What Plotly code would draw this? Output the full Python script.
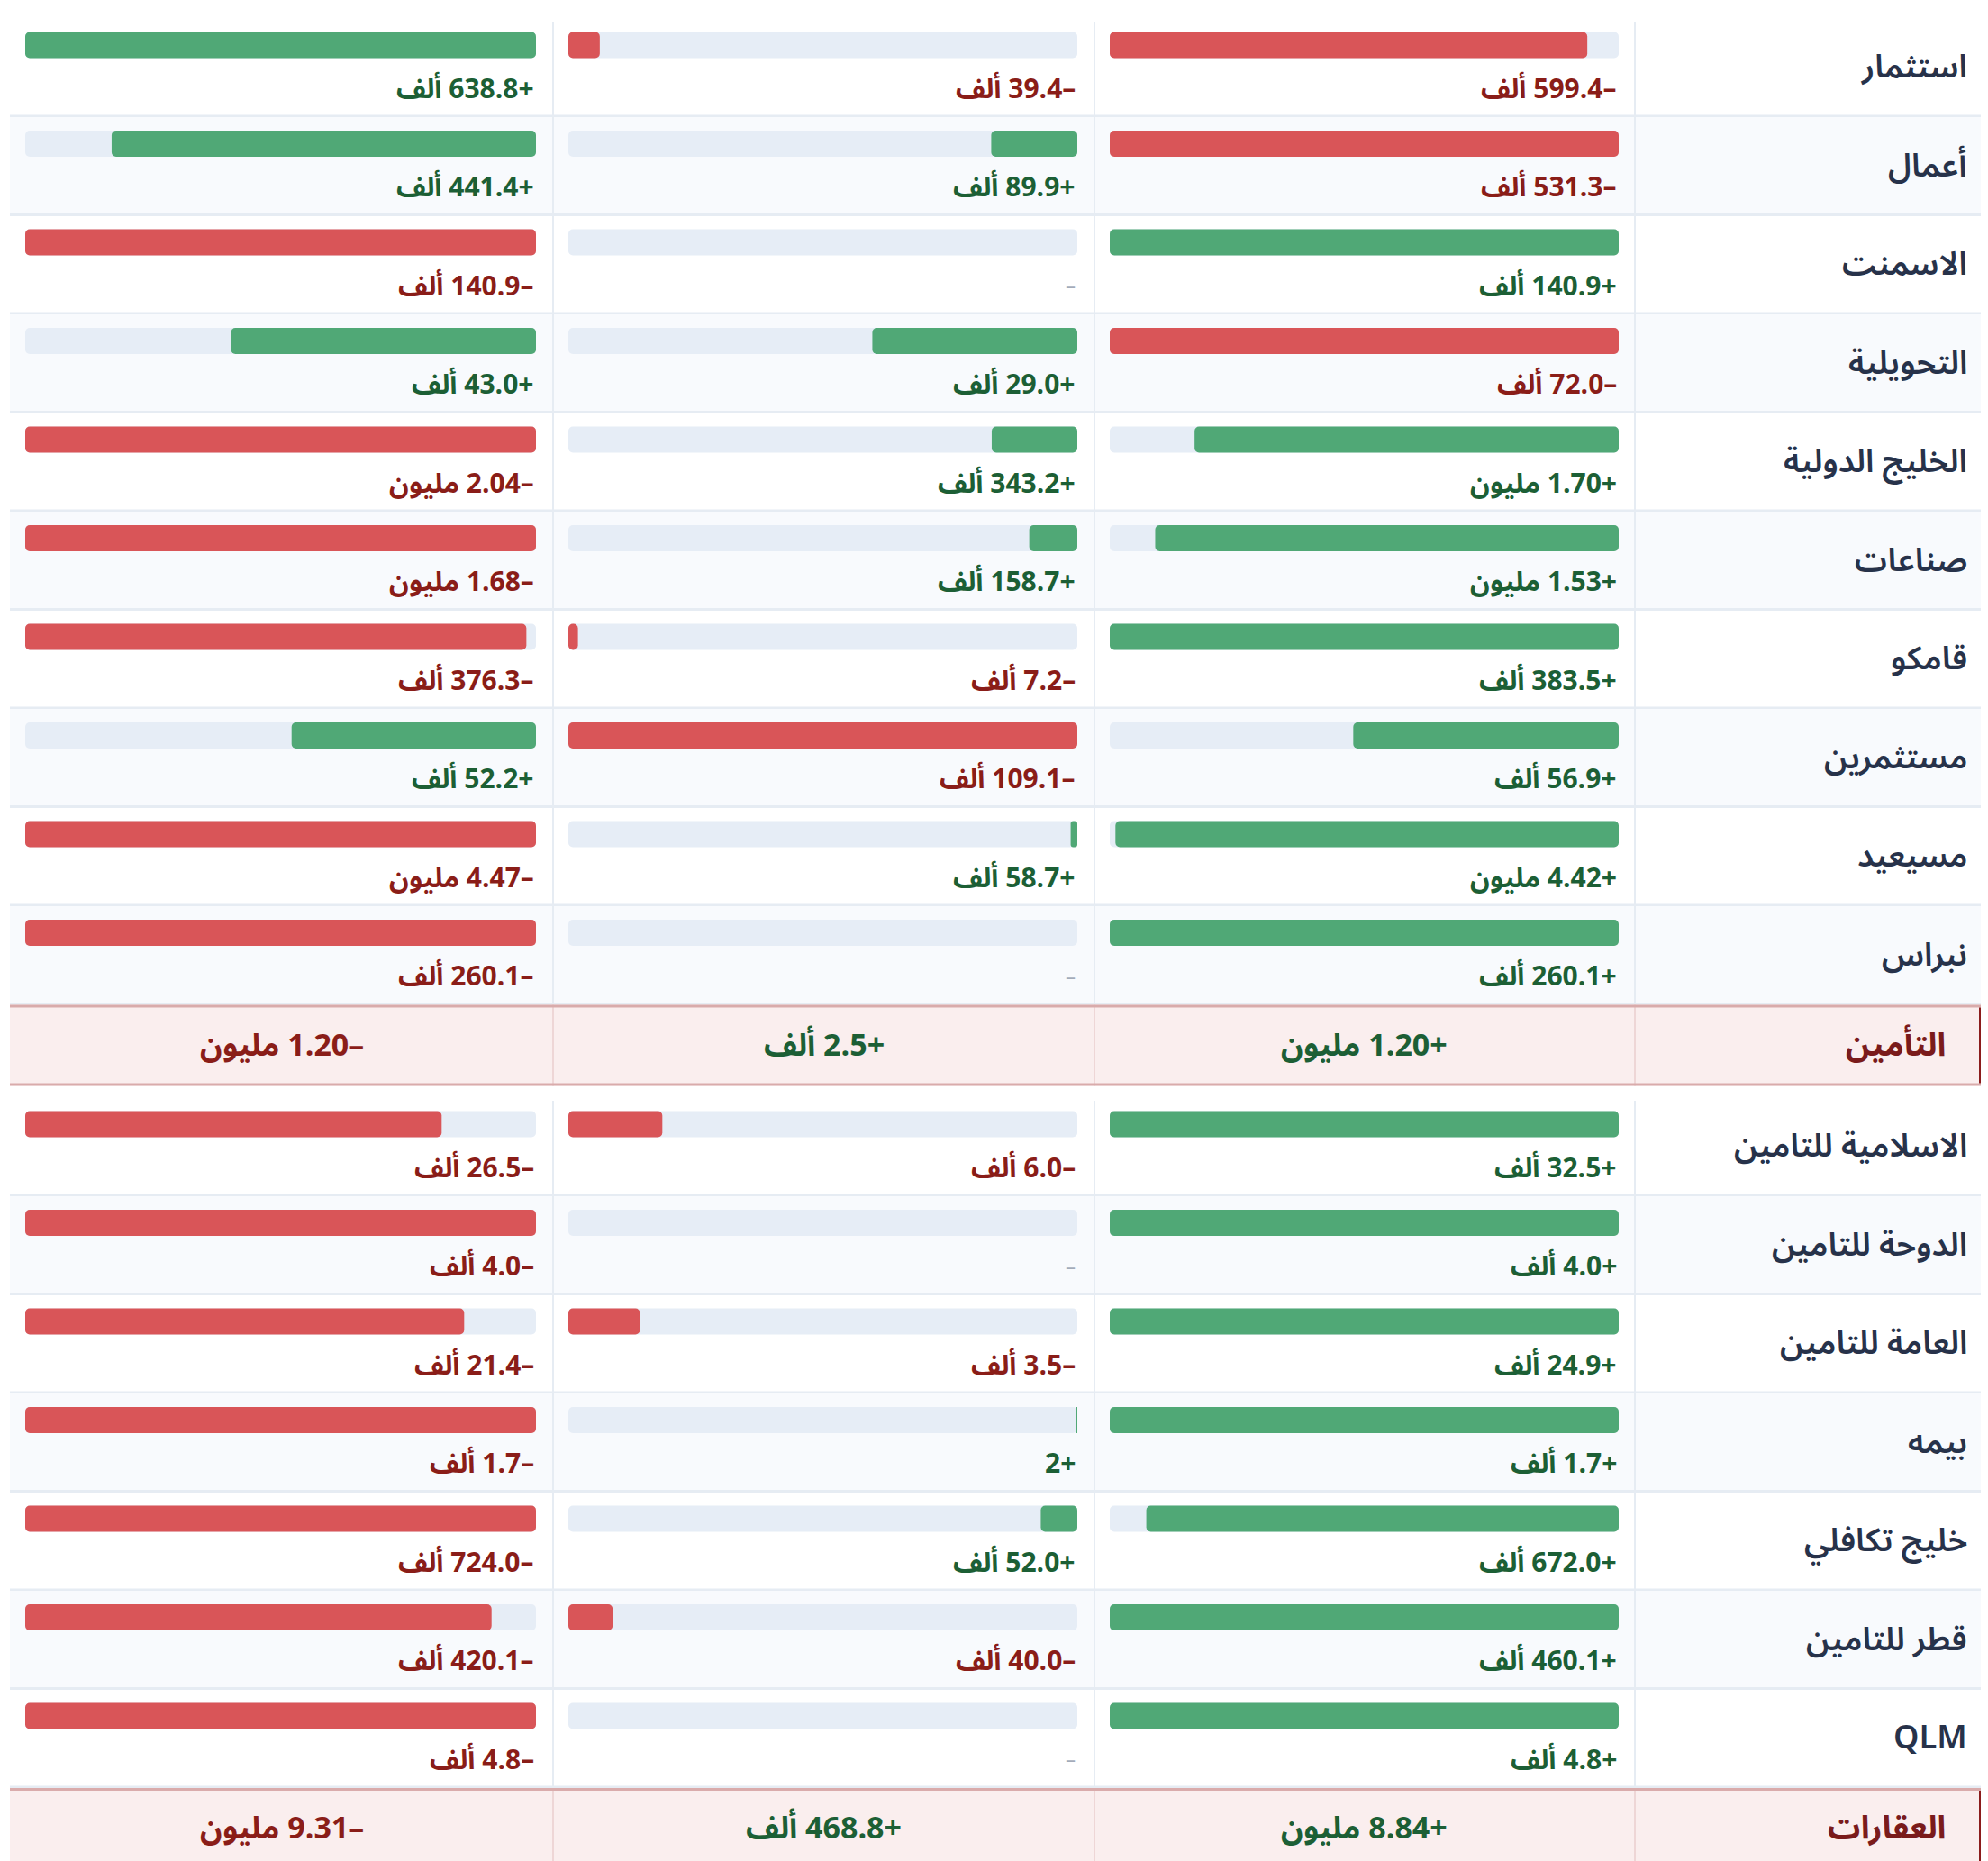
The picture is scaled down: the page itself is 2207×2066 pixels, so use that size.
import plotly.graph_objects as go

# ---------------- DATA ----------------
# Group 1 (rows above the "التأمين" section header)
group1_names = ["استثمار", "أعمال", "الاسمنت", "التحويلية", "الخليج الدولية",
                "صناعات", "قامكو", "مستثمرين", "مسيعيد", "نبراس"]
group1_right = [-599400, -531300, 140900, -72000, 1700000, 1530000, 383500, 56900, 4420000, 260100]
group1_mid = [-39400, 89900, 0, 29000, 343200, 158700, -7200, -109100, 58700, 0]
group1_left = [638800, 441400, -140900, 43000, -2040000, -1680000, -376300, 52200, -4470000, -260100]

# Section header "التأمين" totals (right, mid, left columns)
header1_name = "التأمين"
header1_totals = [1200000, 2500, -1200000]

# Group 2 (insurance companies)
group2_names = ["الاسلامية للتامين", "الدوحة للتامين", "العامة للتامين", "بيمه",
                "خليج تكافلي", "قطر للتامين", "QLM"]
group2_right = [32500, 4000, 24900, 1700, 672000, 460100, 4800]
group2_mid = [-6000, 0, -3500, 2, 52000, -40000, 0]
group2_left = [-26500, -4000, -21400, -1700, -724000, -420100, -4800]

# Section header "العقارات" totals (right, mid, left columns)
header2_name = "العقارات"
header2_totals = [8840000, 468800, -9310000]

# ---------------- STYLE / LAYOUT ----------------
PAGE_W, PAGE_H = 2207, 2066
OFF = 8  # page body margin
W, H = PAGE_W - OFF, PAGE_H - OFF
FONT = "Noto Sans Arabic, Noto Sans, DejaVu Sans, sans-serif"
GREEN, RED, TRACK = "#50a876", "#d95558", "#e6edf6"
GREEN_TXT, RED_TXT = "#1c5f35", "#8a1d18"
NAME_TXT = "#27324a"
SEP = "#e6ecf3"
ALT_BG = "#f8fafd"
HEAD_BG, HEAD_BORDER, HEAD_DIV, HEAD_BAR = "#faeeee", "#d9abab", "#eed6d6", "#8b1c1c"

ROW_H, HEAD_H, GAP, TOP = 109.5, 90, 13, 20.5
TABLE_L = 11
COL_EDGES = [11, 614, 1215, 1815]          # left, mid, right column edges; names to the right
TRACKS = [(28, 595), (631, 1196), (1232, 1797)]  # left, mid, right bar tracks
NAME_X = 2186
HEAD_NAME_X = 2162
BAR_H = 29


def px(x):
    return (x - OFF) / W


sections = [
    ("rows", group1_names, group1_left, group1_mid, group1_right),
    ("head", header1_name, header1_totals),
    ("rows", group2_names, group2_left, group2_mid, group2_right),
    ("head", header2_name, header2_totals),
]

RLM = "\u200f"


def fmt(v):
    if v == 0:
        return None
    sign = "+" if v > 0 else "\u2013"
    a = abs(v)
    if a >= 1e6:
        body = f"{a / 1e6:.2f} مليون"
    elif a >= 1e3:
        body = f"{a / 1e3:.1f} ألف"
    else:
        body = f"{a:.0f}"
    return RLM + sign + body


fig = go.Figure()
shapes, annos = [], []

bar_y = []
cols_vals = [[], [], []]  # left, mid, right
row_max = []

y = TOP
for sec in sections:
    if sec[0] == "rows":
        _, names, lv, mv, rv = sec
        top0 = y
        for i, nm in enumerate(names):
            rt, rb = y, y + ROW_H
            if i % 2 == 1:
                shapes.append(dict(type="rect", xref="paper", yref="y", x0=px(TABLE_L), x1=1,
                                   y0=rt, y1=rb, fillcolor=ALT_BG, line_width=0, layer="below"))
            shapes.append(dict(type="line", xref="paper", yref="y", x0=px(TABLE_L), x1=1,
                               y0=rb - 1, y1=rb - 1, line=dict(color=SEP, width=3), layer="below"))
            annos.append(dict(text=nm, xref="paper", yref="y", x=px(NAME_X), y=rt + ROW_H / 2,
                              xanchor="right", yanchor="middle", showarrow=False,
                              font=dict(family=FONT, size=36, color=NAME_TXT, weight=600)))
            vals = [lv[i], mv[i], rv[i]]
            m = max(abs(v) for v in vals) or 1
            row_max.append(m)
            bar_y.append(rt + 15 + BAR_H / 2)
            for c in range(3):
                cols_vals[c].append(vals[c])
                t = fmt(vals[c])
                ax = f"x{c + 2}"
                if t is None:
                    annos.append(dict(text="\u2013", xref=ax, yref="y", x=1, y=rb - 31,
                                      xanchor="right", yanchor="middle", showarrow=False,
                                      font=dict(family=FONT, size=22, color="#a3abb9")))
                else:
                    annos.append(dict(text=t, xref=ax, yref="y", x=1, y=rb - 31,
                                      xanchor="right", yanchor="middle", showarrow=False,
                                      font=dict(family=FONT, size=30, weight=700,
                                                color=GREEN_TXT if vals[c] > 0 else RED_TXT)))
            y = rb
        for xe in COL_EDGES[1:]:
            shapes.append(dict(type="line", xref="paper", yref="y", x0=px(xe), x1=px(xe),
                               y0=top0 + 3.5, y1=y, line=dict(color=SEP, width=2), layer="below"))
    else:
        _, nm, totals = sec
        ht, hb = y, y + HEAD_H
        shapes.append(dict(type="rect", xref="paper", yref="y", x0=px(TABLE_L), x1=1,
                           y0=ht, y1=hb, fillcolor=HEAD_BG, line_width=0, layer="below"))
        for xe in COL_EDGES[1:]:
            shapes.append(dict(type="line", xref="paper", yref="y", x0=px(xe), x1=px(xe),
                               y0=ht, y1=hb, line=dict(color=HEAD_DIV, width=2), layer="below"))
        for yy in (ht + 1.5, hb - 1.5):
            shapes.append(dict(type="line", xref="paper", yref="y", x0=px(TABLE_L), x1=1,
                               y0=yy, y1=yy, line=dict(color=HEAD_BORDER, width=3), layer="below"))
        shapes.append(dict(type="rect", xref="paper", yref="y", x0=px(2197), x1=1,
                           y0=ht + 3, y1=hb - 3, fillcolor=HEAD_BAR, line_width=0, layer="below"))
        annos.append(dict(text=nm, xref="paper", yref="y", x=px(HEAD_NAME_X), y=ht + HEAD_H / 2,
                          xanchor="right", yanchor="middle", showarrow=False,
                          font=dict(family=FONT, size=36, weight=700, color="#7a1b1b")))
        centres = [(COL_EDGES[2] + COL_EDGES[3]) / 2, (COL_EDGES[1] + COL_EDGES[2]) / 2,
                   (COL_EDGES[0] + COL_EDGES[1]) / 2]
        for v, cx in zip(totals, centres):
            annos.append(dict(text=fmt(v), xref="paper", yref="y", x=px(cx), y=ht + HEAD_H / 2,
                              xanchor="center", yanchor="middle", showarrow=False,
                              font=dict(family=FONT, size=34, weight=700,
                                        color=GREEN_TXT if v > 0 else RED_TXT)))
        y = hb + GAP

n = len(bar_y)
for c in range(3):
    ax = f"x{c + 2}"
    vals = cols_vals[c]
    fig.add_trace(go.Bar(orientation="h", x=[1] * n, base=[0] * n, y=bar_y, width=BAR_H,
                         marker=dict(color=TRACK, line_width=0), xaxis=ax, yaxis="y",
                         hoverinfo="skip", showlegend=False))
    fr = [abs(v) / m for v, m in zip(vals, row_max)]
    bases = [1 - f if v > 0 else 0 for v, f in zip(vals, fr)]
    colors = [GREEN if v > 0 else RED for v in vals]
    fig.add_trace(go.Bar(orientation="h", x=fr, base=bases, y=bar_y, width=BAR_H,
                         marker=dict(color=colors, line_width=0), xaxis=ax, yaxis="y",
                         hoverinfo="skip", showlegend=False))

layout = dict(
    width=W, height=H, margin=dict(l=0, r=0, t=0, b=0),
    paper_bgcolor="white", plot_bgcolor="rgba(0,0,0,0)",
    barmode="overlay", barcornerradius=5,
    xaxis=dict(domain=[0, 1], range=[OFF, W + OFF], visible=False, fixedrange=True),
    yaxis=dict(domain=[0, 1], range=[H + OFF, OFF], visible=False, fixedrange=True),
    shapes=shapes, annotations=annos, showlegend=False,
)
for c, (a, b) in enumerate(TRACKS):
    layout[f"xaxis{c + 2}"] = dict(domain=[px(a), px(b)], range=[0, 1], visible=False,
                                   anchor="y", fixedrange=True)
fig.update_layout(**layout)
fig.write_html("out.html",
               post_script="document.documentElement.style.overflow='hidden';"
                           "document.body.style.overflow='hidden';")
